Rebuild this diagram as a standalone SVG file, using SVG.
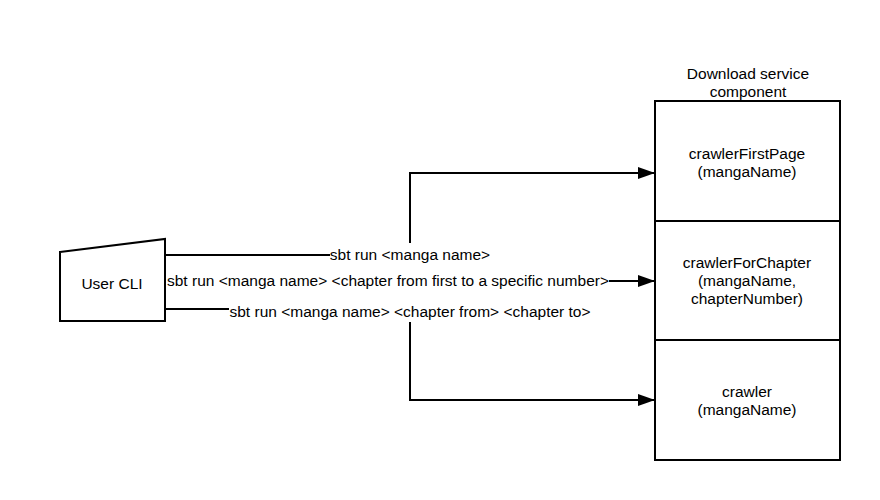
<svg xmlns="http://www.w3.org/2000/svg" width="880" height="500" viewBox="0 0 880 500">
<defs>
<marker id="arr" markerUnits="userSpaceOnUse" markerWidth="18" markerHeight="12" refX="17" refY="6" orient="auto">
<path d="M0,0 L17,6 L0,12 Z" fill="#000"/>
</marker>
</defs>
<style>
text{font-family:"Liberation Sans",Arial,sans-serif;font-size:15.5px;fill:#000;text-anchor:middle;dominant-baseline:central}
.shape{fill:#fff;stroke:#000;stroke-width:2}
.conn{fill:none;stroke:#000;stroke-width:2}
</style>
<rect width="880" height="500" fill="#fff"/>
<g id="user-cli">
<path class="shape" d="M60,252 L165,239 L165,321 L60,321 Z"/>
<text x="112" y="283">User CLI</text>
</g>
<g id="download-service">
<text x="748" y="73">Download service</text>
<text x="748" y="91">component</text>
</g>
<g id="crawlerFirstPage">
<rect class="shape" x="655" y="101" width="185" height="120"/>
<text x="747" y="153">crawlerFirstPage</text>
<text x="747" y="171">(mangaName)</text>
</g>
<g id="crawlerForChapter">
<rect class="shape" x="655" y="221" width="185" height="119"/>
<text x="747" y="262">crawlerForChapter</text>
<text x="747" y="280">(mangaName,</text>
<text x="747" y="298">chapterNumber)</text>
</g>
<g id="crawler">
<rect class="shape" x="655" y="340" width="185" height="120"/>
<text x="747" y="391">crawler</text>
<text x="747" y="409">(mangaName)</text>
</g>
<g id="connectors">
<path class="conn" d="M165,255 L330,255"/>
<path class="conn" d="M410,243 L410,173 L655,173" marker-end="url(#arr)"/>
<text x="410" y="254">sbt run &lt;manga name&gt;</text>
<text x="388" y="280">sbt run &lt;manga name&gt; &lt;chapter from first to a specific number&gt;</text>
<path class="conn" d="M609,281 L655,281" marker-end="url(#arr)"/>
<path class="conn" d="M165,309 L229,309"/>
<text x="410" y="311">sbt run &lt;manga name&gt; &lt;chapter from&gt; &lt;chapter to&gt;</text>
<path class="conn" d="M410,322 L410,400 L655,400" marker-end="url(#arr)"/>
</g>
</svg>
